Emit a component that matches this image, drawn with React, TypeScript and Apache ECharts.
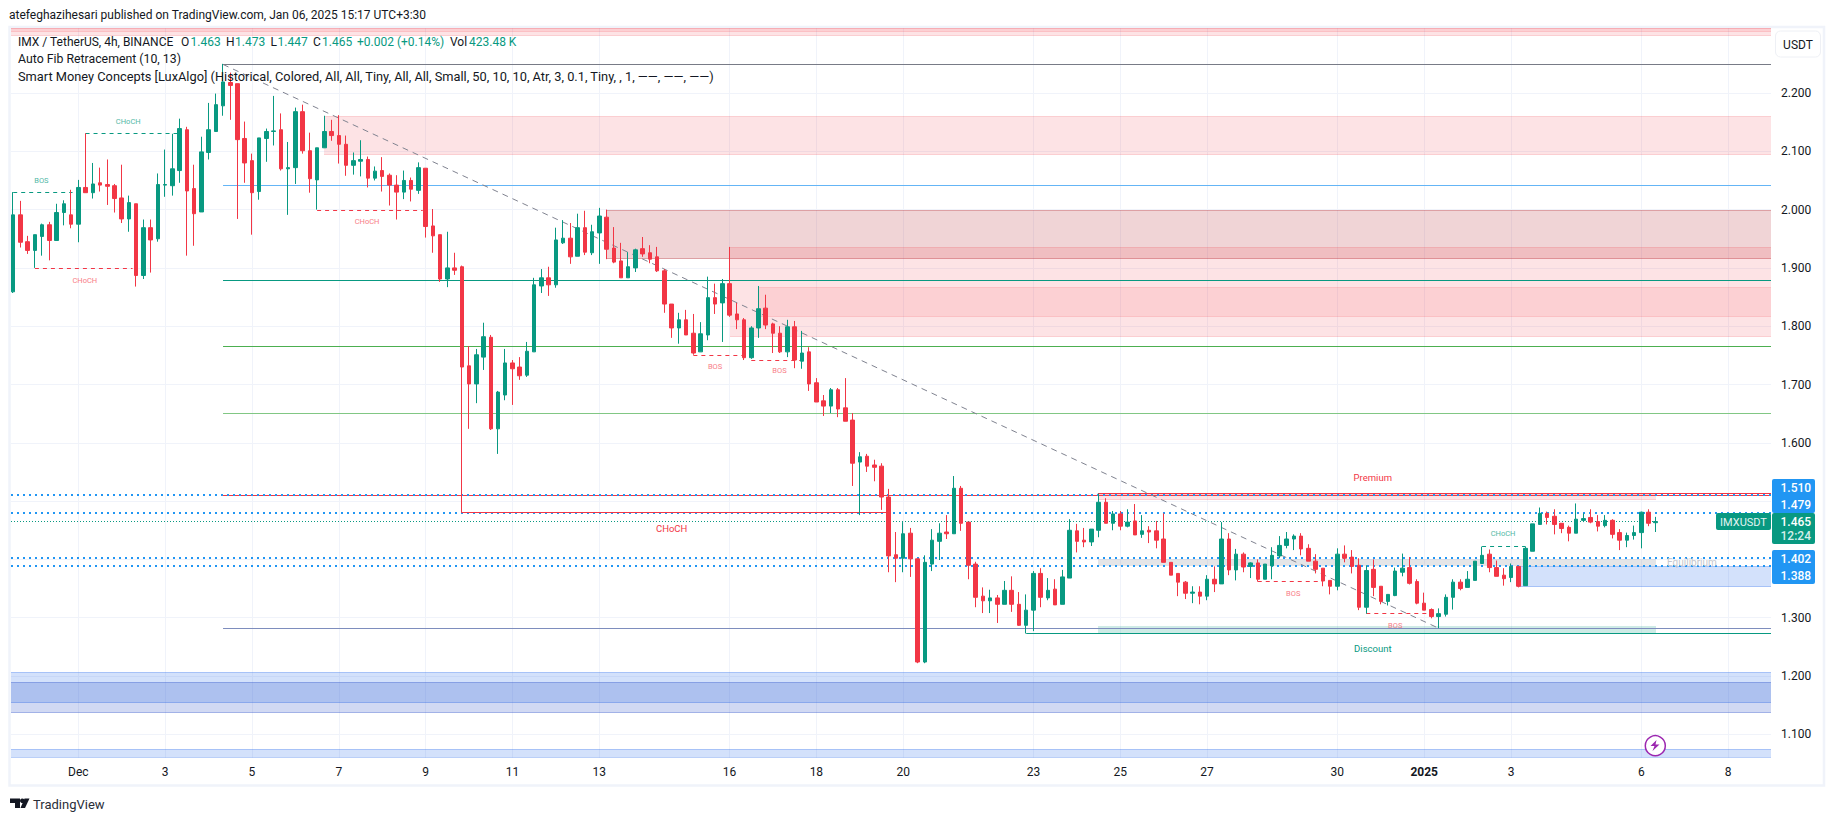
import React, { useEffect, useRef } from "react";
import * as echarts from "echarts";

const opens = [
  1.859,1.991,1.945,1.930,1.954,1.974,1.947,1.995,1.991,1.975,
  2.038,2.029,2.046,2.043,2.041,2.020,1.984,2.010,1.887,1.969,
  1.950,2.042,2.041,2.067,2.137,2.036,1.996,2.098,2.134,2.178,
  2.218,2.216,2.122,2.084,2.031,2.122,2.134,2.137,2.070,2.072,
  2.168,2.101,2.051,2.106,2.134,2.127,2.112,2.076,2.083,2.086,
  2.054,2.067,2.059,2.042,2.030,2.050,2.033,2.071,1.972,1.957,
  1.881,1.900,1.902,1.732,1.701,1.747,1.781,1.624,1.682,1.737,
  1.730,1.716,1.756,1.869,1.883,1.871,1.943,1.951,1.920,1.969,
  1.926,1.960,1.987,1.934,1.912,1.883,1.900,1.933,1.926,1.919,
  1.895,1.838,1.797,1.811,1.788,1.756,1.785,1.849,1.840,1.873,
  1.821,1.811,1.746,1.797,1.831,1.804,1.788,1.756,1.799,1.740,
  1.756,1.703,1.672,1.663,1.691,1.660,1.639,1.567,1.577,1.562,
  1.560,1.507,1.408,1.402,1.445,1.401,1.224,1.392,1.431,1.447,
  1.444,1.522,1.464,1.392,1.337,1.329,1.334,1.323,1.347,1.323,
  1.287,1.313,1.376,1.334,1.349,1.323,1.368,1.449,1.433,1.430,
  1.450,1.498,1.462,1.478,1.457,1.466,1.443,1.450,1.449,1.435,
  1.395,1.376,1.361,1.342,1.344,1.337,1.366,1.358,1.435,1.382,
  1.409,1.388,1.394,1.366,1.389,1.406,1.424,1.435,1.440,1.419,
  1.397,1.385,1.364,1.354,1.409,1.404,1.390,1.318,1.383,1.354,
  1.328,1.338,1.378,1.386,1.362,1.325,1.314,1.302,1.306,1.335,
  1.361,1.352,1.364,1.393,1.409,1.386,1.373,1.369,1.388,1.355,
  1.414,1.460,1.479,1.474,1.462,1.455,1.445,1.467,1.472,1.465,
  1.458,1.467,1.446,1.433,1.441,1.446,1.481,1.463,
];
const closes = [
  1.991,1.944,1.930,1.957,1.974,1.947,1.995,2.010,1.975,2.038,
  2.029,2.044,2.042,2.040,2.019,1.984,2.012,1.887,1.969,1.948,
  2.043,2.043,2.070,2.139,2.032,1.993,2.099,2.137,2.180,2.219,
  2.213,2.120,2.080,2.029,2.123,2.134,2.135,2.070,2.072,2.168,
  2.101,2.053,2.106,2.134,2.127,2.112,2.076,2.084,2.086,2.054,
  2.066,2.057,2.042,2.030,2.050,2.035,2.072,1.971,1.955,1.881,
  1.900,1.896,1.730,1.701,1.751,1.782,1.624,1.687,1.737,1.727,
  1.715,1.757,1.871,1.883,1.871,1.948,1.951,1.919,1.969,1.927,
  1.962,1.989,1.932,1.910,1.883,1.902,1.931,1.924,1.915,1.895,
  1.838,1.797,1.811,1.785,1.754,1.787,1.849,1.838,1.873,1.819,
  1.811,1.746,1.797,1.830,1.802,1.788,1.756,1.799,1.742,1.754,
  1.701,1.670,1.663,1.691,1.658,1.637,1.565,1.576,1.560,1.558,
  1.507,1.406,1.402,1.444,1.401,1.224,1.395,1.433,1.445,1.444,
  1.522,1.462,1.390,1.335,1.329,1.334,1.323,1.347,1.323,1.287,
  1.313,1.376,1.335,1.347,1.322,1.370,1.450,1.431,1.430,1.452,
  1.498,1.462,1.478,1.457,1.464,1.442,1.449,1.447,1.433,1.395,
  1.373,1.361,1.342,1.344,1.337,1.366,1.358,1.435,1.382,1.409,
  1.387,1.394,1.366,1.392,1.407,1.424,1.435,1.440,1.418,1.397,
  1.383,1.363,1.354,1.409,1.402,1.388,1.318,1.381,1.352,1.328,
  1.340,1.380,1.385,1.359,1.325,1.313,1.302,1.307,1.335,1.361,
  1.350,1.366,1.397,1.407,1.386,1.371,1.367,1.388,1.354,1.419,
  1.461,1.479,1.472,1.460,1.453,1.445,1.469,1.470,1.464,1.457,
  1.467,1.443,1.433,1.441,1.446,1.481,1.462,1.465,
];
const lows = [
  1.857,1.935,1.924,1.900,1.921,1.913,1.947,1.973,1.968,1.944,
  2.029,2.019,2.031,2.008,1.995,1.977,1.962,1.868,1.881,1.892,
  1.945,2.022,2.024,2.046,1.921,1.938,1.996,2.086,2.134,2.161,
  2.154,1.984,2.046,1.957,2.017,2.082,2.110,2.067,1.991,2.044,
  2.096,2.029,2.000,2.106,2.118,2.079,2.058,2.060,2.057,2.038,
  2.050,2.031,2.007,1.983,2.018,2.014,2.027,1.952,1.926,1.876,
  1.867,1.888,1.480,1.624,1.668,1.725,1.622,1.581,1.673,1.665,
  1.708,1.713,1.756,1.857,1.852,1.866,1.941,1.907,1.920,1.922,
  1.922,1.907,1.915,1.908,1.883,1.883,1.893,1.919,1.908,1.893,
  1.823,1.780,1.770,1.785,1.751,1.756,1.776,1.821,1.773,1.816,
  1.795,1.742,1.744,1.780,1.795,1.754,1.754,1.747,1.728,1.727,
  1.689,1.670,1.646,1.651,1.644,1.637,1.526,1.476,1.550,1.534,
  1.485,1.378,1.361,1.378,1.370,1.222,1.222,1.380,1.399,1.435,
  1.444,1.449,1.366,1.318,1.308,1.308,1.291,1.323,1.310,1.286,
  1.273,1.277,1.318,1.330,1.322,1.323,1.368,1.412,1.421,1.423,
  1.438,1.462,1.450,1.450,1.455,1.442,1.437,1.428,1.419,1.395,
  1.373,1.337,1.332,1.325,1.323,1.330,1.344,1.358,1.373,1.364,
  1.378,1.368,1.362,1.366,1.366,1.402,1.419,1.416,1.407,1.397,
  1.376,1.354,1.340,1.347,1.395,1.376,1.313,1.307,1.337,1.323,
  1.321,1.337,1.371,1.357,1.323,1.313,1.299,1.282,1.302,1.314,
  1.347,1.352,1.364,1.392,1.378,1.371,1.355,1.361,1.352,1.355,
  1.414,1.460,1.460,1.443,1.445,1.431,1.445,1.464,1.462,1.448,
  1.455,1.436,1.416,1.421,1.434,1.419,1.457,1.447,
];
const highs = [
  2.030,2.015,1.955,1.957,1.976,1.979,2.010,2.016,2.034,2.051,
  2.131,2.080,2.072,2.086,2.044,2.077,2.024,2.010,1.983,1.983,
  2.062,2.103,2.130,2.156,2.142,2.077,2.125,2.183,2.199,2.250,
  2.235,2.216,2.151,2.096,2.123,2.139,2.195,2.165,2.116,2.175,
  2.180,2.132,2.106,2.161,2.154,2.162,2.127,2.098,2.119,2.091,
  2.074,2.090,2.062,2.059,2.067,2.055,2.081,2.071,2.001,1.957,
  1.962,1.926,1.904,1.766,1.761,1.806,1.785,1.689,1.761,1.742,
  1.747,1.773,1.883,1.898,1.902,1.969,1.982,1.977,1.993,1.998,
  1.974,2.003,2.000,1.970,1.943,1.927,1.933,1.953,1.939,1.936,
  1.898,1.838,1.823,1.828,1.821,1.807,1.885,1.873,1.881,1.936,
  1.840,1.814,1.800,1.869,1.854,1.806,1.800,1.811,1.809,1.792,
  1.764,1.711,1.682,1.694,1.694,1.711,1.651,1.584,1.581,1.571,
  1.565,1.521,1.447,1.464,1.454,1.401,1.407,1.452,1.462,1.476,
  1.543,1.526,1.464,1.396,1.352,1.348,1.339,1.363,1.371,1.344,
  1.340,1.380,1.385,1.368,1.366,1.382,1.469,1.461,1.454,1.452,
  1.513,1.505,1.483,1.483,1.486,1.495,1.476,1.457,1.466,1.479,
  1.395,1.376,1.363,1.354,1.354,1.373,1.388,1.464,1.445,1.418,
  1.412,1.395,1.400,1.392,1.421,1.440,1.447,1.443,1.445,1.426,
  1.409,1.385,1.364,1.419,1.424,1.416,1.402,1.390,1.400,1.354,
  1.340,1.386,1.410,1.404,1.366,1.343,1.316,1.316,1.340,1.366,
  1.366,1.380,1.397,1.422,1.417,1.398,1.385,1.393,1.388,1.422,
  1.461,1.489,1.482,1.486,1.462,1.458,1.496,1.479,1.486,1.476,
  1.476,1.469,1.452,1.446,1.458,1.482,1.486,1.473,
];

const dateTickBars = [9, 21, 33, 45, 57, 69, 81, 99, 111, 123, 141, 153, 165, 183, 195, 207, 225, 237];
const dateTickLabels = ["Dec", "3", "5", "7", "9", "11", "13", "16", "18", "20", "23", "25", "27", "30", "2025", "3", "6", "8"];
const priceGridLines = [1.1, 1.2, 1.3, 1.4, 1.5, 1.6, 1.7, 1.8, 1.9, 2.0, 2.1, 2.2];
const priceTickLabels = [1.1, 1.2, 1.3, 1.6, 1.7, 1.8, 1.9, 2.0, 2.1, 2.2];

const X_MIN = -0.304;
const X_MAX = 242.93;
const Y_MIN = 1.0599;
const Y_MAX = 2.3115;

// price zones: first bar, last bar, top, bottom, tint
const zoneStart = [X_MIN, X_MIN, 43, 82, 99, 103, 149.9, 149.9, 149.9, 207.8, X_MIN, X_MIN, X_MIN];
const zoneEnd = [X_MAX, X_MAX, X_MAX, X_MAX, X_MAX, X_MAX, 227.1, 227.1, 227.1, X_MAX, X_MAX, X_MAX, X_MAX];
const zoneTop = [Y_MAX, Y_MAX, 2.16, 1.999, 1.936, 1.868, 1.5127, 1.401, 1.2858, 1.3887, 1.2063, 1.1892, 1.0743];
const zoneBottom = [2.297, 2.305, 2.094, 1.916, 1.781, 1.816, 1.502, 1.389, 1.2732, 1.3532, 1.1532, 1.136, Y_MIN];
const zoneTint = ["red", "red2", "red", "rose", "red", "red2", "red", "grey", "teal", "blue", "blue", "indigo", "blue"];

// horizontal and sloped levels: from bar/price to bar/price, style key
const segX1 = [29, 29, 29, 29, 29, 29, 29, X_MIN, X_MIN, X_MIN, X_MIN, X_MIN, 149.9, 140, 62, 29, 0, 3, 10, 42, 94, 102, 172, 187, 203];
const segP1 = [2.249, 2.0416, 1.879, 1.7655, 1.6506, 1.5096, 1.2818, 1.51, 1.479, 1.403, 1.3885, 1.465, 1.5127, 1.2732, 1.48, 2.249, 2.0295, 1.899, 2.131, 1.9987, 1.75, 1.7415, 1.3622, 1.3074, 1.4224];
const segX2 = [X_MAX, X_MAX, X_MAX, X_MAX, X_MAX, X_MAX, X_MAX, X_MAX, X_MAX, X_MAX, X_MAX, 227, X_MAX, X_MAX, 121, 197, 8.2, 16.5, 22.8, 56.6, 101, 110, 181, 196, 209];
const segP2 = [2.249, 2.0416, 1.879, 1.7655, 1.6506, 1.5096, 1.2818, 1.51, 1.479, 1.403, 1.3885, 1.465, 1.5127, 1.2732, 1.48, 1.282, 2.0295, 1.899, 2.131, 1.9987, 1.75, 1.7415, 1.3622, 1.3074, 1.4224];
const segStyle = ["fibGrey", "fibBlue", "fibTeal", "fibGreen", "fibLight", "fibRed", "fibIndigo", "dots", "dots", "dots", "dots", "last", "high", "low", "choch", "trend", "dashG", "dashR", "dashG", "dashR", "dashR", "dashR", "dashR", "dashR", "dashG"];

// annotation labels
const noteBar = [3.9, 9.9, 15.9, 48.9, 97, 105.9, 176.9, 191, 205.9, 91, 187.9, 187.9, 232];
const notePrice = [2.0505, 1.878, 2.151, 1.98, 1.731, 1.7232, 1.3415, 1.2861, 1.4441, 1.4535, 1.5401, 1.2465, 1.3945];
const noteText = ["BOS", "CHoCH", "CHoCH", "CHoCH", "BOS", "BOS", "BOS", "BOS", "CHoCH", "CHoCH", "Premium", "Discount", "Equilibrium"];
const noteStyle = ["tinyG", "tinyR", "tinyG", "tinyR", "tinyR", "tinyR", "tinyR", "tinyR", "tinyG", "smallR", "smallR", "smallG", "eq"];

const legendPieces = ["IMX / TetherUS, 4h, BINANCE", "O", "1.463", "H", "1.473", "L", "1.447", "C", "1.465", "+0.002 (+0.14%)", "Vol", "423.48 K"];
const legendPieceX = [18, 181, 190.5, 226, 235, 270.5, 277.5, 313, 322, 357, 450, 469];
const legendPieceInk = [0, 0, 1, 0, 1, 0, 1, 0, 1, 1, 0, 1];

const tints: Record<string, [string, string]> = {
  red: ["rgba(242,54,69,0.14)", "rgba(242,54,69,0.12)"],
  red2: ["rgba(242,54,69,0.11)", "rgba(242,54,69,0.1)"],
  rose: ["rgba(178,40,51,0.2)", "rgba(178,40,51,0.3)"],
  grey: ["rgba(120,123,134,0.2)", "rgba(120,123,134,0)"],
  teal: ["rgba(8,153,129,0.2)", "rgba(8,153,129,0)"],
  blue: ["rgba(35,105,235,0.2)", "rgba(35,105,235,0.25)"],
  indigo: ["rgba(25,65,195,0.2)", "rgba(25,65,195,0.25)"],
};
const lineStyles: Record<string, { stroke: string; lineWidth: number; lineDash?: number[] }> = {
  fibGrey: { stroke: "#787b86", lineWidth: 1 },
  fibBlue: { stroke: "#64b5f6", lineWidth: 1 },
  fibTeal: { stroke: "#089981", lineWidth: 1 },
  fibGreen: { stroke: "#4caf50", lineWidth: 1 },
  fibLight: { stroke: "#81c784", lineWidth: 1 },
  fibRed: { stroke: "#f23645", lineWidth: 1 },
  fibIndigo: { stroke: "#7e8dbd", lineWidth: 1 },
  dots: { stroke: "#2196f3", lineWidth: 2, lineDash: [2, 4] },
  last: { stroke: "#089981", lineWidth: 1, lineDash: [1, 2] },
  high: { stroke: "#f23645", lineWidth: 1 },
  low: { stroke: "#089981", lineWidth: 1 },
  choch: { stroke: "#f23645", lineWidth: 1 },
  trend: { stroke: "#808390", lineWidth: 1, lineDash: [6, 5] },
  dashG: { stroke: "#089981", lineWidth: 1, lineDash: [4, 4] },
  dashR: { stroke: "#f23645", lineWidth: 1, lineDash: [4, 4] },
};
const noteStyles: Record<string, { fill: string; fontSize: number }> = {
  tinyG: { fill: "#52b8a6", fontSize: 7.5 },
  tinyR: { fill: "#f87c86", fontSize: 7.5 },
  smallR: { fill: "#f23645", fontSize: 9.5 },
  smallG: { fill: "#089981", fontSize: 9.5 },
  eq: { fill: "#c4c6cc", fontSize: 10 },
};

const FONT = "Roboto, sans-serif";
const INK = "#131722";

function priceTag(y1: number, y2: number, fill: string) {
  return { type: "rect", shape: { x: 1772, y: y1, width: 43, height: y2 - y1, r: 2 }, style: { fill }, z: 50 };
}
function tagText(text: string, y: number, fill = "#ffffff", x = 1780.5) {
  return { type: "text", style: { text, x, y, fill, fontFamily: FONT, fontSize: 12, fontWeight: 500, verticalAlign: "middle" }, z: 51 };
}
function legendText(text: string, y: number, fontSize: number, x = 18, fill = INK) {
  return { type: "text", style: { text, x, y, fill, fontFamily: FONT, fontSize, verticalAlign: "middle" }, z: 60 };
}

export default function App() {
  const ref = useRef<HTMLDivElement>(null);
  useEffect(() => {
    document.body.style.margin = "0";
    const chart = echarts.init(ref.current!, undefined, { renderer: "svg" });
    chart.setOption({
      animation: false,
      backgroundColor: "#ffffff",
      grid: { left: 11, width: 1760, top: 28, height: 729.7 },
      xAxis: {
        type: "value",
        min: X_MIN,
        max: X_MAX,
        axisLine: { show: false },
        axisTick: { show: false, customValues: dateTickBars },
        splitLine: { show: true, lineStyle: { color: "#f0f3fa", width: 1 } },
        axisLabel: {
          customValues: dateTickBars,
          margin: 8,
          color: INK,
          fontFamily: FONT,
          fontSize: 12,
          formatter: (v: number) => {
            const t = dateTickLabels[dateTickBars.indexOf(v)] ?? "";
            return t === "2025" ? "{b|2025}" : t;
          },
          rich: { b: { fontWeight: 700, fontFamily: FONT, fontSize: 12, color: INK } },
        },
      },
      yAxis: {
        type: "value",
        position: "right",
        min: Y_MIN,
        max: Y_MAX,
        axisLine: { show: false },
        axisTick: { show: false, customValues: priceGridLines },
        splitLine: { show: true, lineStyle: { color: "#f0f3fa", width: 1 } },
        axisLabel: {
          customValues: priceTickLabels,
          margin: 10,
          color: INK,
          fontFamily: FONT,
          fontSize: 12,
          formatter: (v: number) => v.toFixed(3),
        },
      },
      series: [
        {
          type: "custom",
          z: 1,
          silent: true,
          clip: true,
          data: zoneStart.map((x, i) => [x, zoneTop[i]]),
          renderItem: (p: any, api: any) => {
            const i = p.dataIndex;
            const a = api.coord([zoneStart[i], zoneTop[i]]);
            const b = api.coord([zoneEnd[i], zoneBottom[i]]);
            const [fill, edge] = tints[zoneTint[i]];
            const x1 = Math.round(a[0]);
            const x2 = Math.round(b[0]);
            const y1 = Math.round(a[1]);
            const y2 = Math.round(b[1]);
            return {
              type: "group",
              children: [
                { type: "rect", shape: { x: x1, y: y1, width: x2 - x1, height: y2 - y1 }, style: { fill } },
                { type: "line", shape: { x1, y1: y1 + 0.5, x2, y2: y1 + 0.5 }, style: { stroke: edge, lineWidth: 1 } },
                { type: "line", shape: { x1, y1: y2 - 0.5, x2, y2: y2 - 0.5 }, style: { stroke: edge, lineWidth: 1 } },
              ],
            };
          },
        },
        {
          type: "custom",
          z: 2,
          silent: true,
          clip: true,
          data: segX1.map((x, i) => [x, segP1[i]]),
          renderItem: (p: any, api: any) => {
            const i = p.dataIndex;
            const a = api.coord([segX1[i], segP1[i]]);
            const b = api.coord([segX2[i], segP2[i]]);
            const st = lineStyles[segStyle[i]];
            const flat = segP1[i] === segP2[i];
            const snap = (v: number) => (flat ? (st.lineWidth === 2 ? Math.round(v) : Math.floor(v) + 0.5) : v);
            return {
              type: "line",
              shape: { x1: a[0], y1: snap(a[1]), x2: b[0], y2: snap(b[1]) },
              style: { stroke: st.stroke, lineWidth: st.lineWidth, lineDash: st.lineDash },
            };
          },
        },
        {
          type: "candlestick",
          z: 3,
          silent: true,
          barWidth: 4,
          encode: { x: 0, y: [1, 2, 3, 4] },
          data: opens.map((o, i) => [i, o, closes[i], lows[i], highs[i]]),
          itemStyle: {
            color: "#089981",
            color0: "#f23645",
            borderColor: "#089981",
            borderColor0: "#f23645",
            borderColorDoji: "#089981",
            borderWidth: 1,
          },
        },
        {
          type: "custom",
          z: 4,
          silent: true,
          data: noteBar.map((x, i) => [x, notePrice[i]]),
          renderItem: (p: any, api: any) => {
            const i = p.dataIndex;
            const c = api.coord([noteBar[i], notePrice[i]]);
            const st = noteStyles[noteStyle[i]];
            return {
              type: "text",
              x: c[0],
              y: c[1],
              style: { text: noteText[i], fill: st.fill, fontSize: st.fontSize, fontFamily: FONT, align: "center", verticalAlign: "middle" },
            };
          },
        },
      ],
      graphic: [
        { type: "rect", shape: { x: 9.5, y: 27, width: 1814.5, height: 758.5 }, style: { fill: "none", stroke: "#f0f3fa", lineWidth: 2.5 }, z: 0 },
        { type: "text", style: { text: "atefeghazihesari published on TradingView.com, Jan 06, 2025 15:17 UTC+3:30", x: 9, y: 15, fill: INK, fontFamily: FONT, fontSize: 12, verticalAlign: "middle" }, z: 60 },
        ...legendPieces.map((t, i) => legendText(t, 42, 12, legendPieceX[i], legendPieceInk[i] ? "#089981" : INK)),
        legendText("Auto Fib Retracement (10, 13)", 59, 12.3),
        legendText("Smart Money Concepts [LuxAlgo] (Historical, Colored, All, All, Tiny, All, All, Small, 50, 10, 10, Atr, 3, 0.1, Tiny, , 1, ——, ——, ——)", 76, 12.8),
        { type: "rect", shape: { x: 1775.5, y: 31, width: 45, height: 26, r: 5 }, style: { fill: "#ffffff", stroke: "#eef0f5", lineWidth: 1 }, z: 50 },
        { type: "text", style: { text: "USDT", x: 1798, y: 44.5, fill: INK, fontFamily: FONT, fontSize: 12, align: "center", verticalAlign: "middle" }, z: 51 },
        priceTag(479, 513, "#2196f3"),
        tagText("1.510", 488),
        tagText("1.479", 505),
        priceTag(513, 544, "#089981"),
        tagText("1.465", 522),
        tagText("12:24", 536, "#d5efea"),
        { type: "rect", shape: { x: 1716, y: 513, width: 55, height: 17, r: 2 }, style: { fill: "#089981" }, z: 50 },
        { type: "text", style: { text: "IMXUSDT", x: 1743.5, y: 522, fill: "#e3f4f1", fontFamily: FONT, fontSize: 11, align: "center", verticalAlign: "middle" }, z: 51 },
        priceTag(550, 584, "#2196f3"),
        tagText("1.402", 559),
        tagText("1.388", 576),
        { type: "circle", shape: { cx: 1655.3, cy: 745.7, r: 10 }, style: { fill: "#ffffff", stroke: "#9c27b0", lineWidth: 1.5 }, z: 55 },
        { type: "polygon", shape: { points: [[1656.5, 740], [1650.5, 746], [1654.5, 746], [1652.5, 751], [1659.5, 744.5], [1655.5, 744.5]] }, style: { fill: "#9c27b0" }, z: 56 },
        { type: "polygon", shape: { points: [[10, 798.5], [20, 798.5], [20, 808], [15, 808], [15, 803], [10, 803]] }, style: { fill: INK }, z: 60 },
        { type: "circle", shape: { cx: 22.3, cy: 800.8, r: 2.3 }, style: { fill: INK }, z: 60 },
        { type: "polygon", shape: { points: [[24.5, 798.5], [29.5, 798.5], [25, 808], [20.5, 808]] }, style: { fill: INK }, z: 60 },
        { type: "text", style: { text: "TradingView", x: 33, y: 804, fill: "#2a2e39", fontFamily: FONT, fontSize: 13, verticalAlign: "middle" }, z: 60 },
      ],
    });
    return () => chart.dispose();
  }, []);
  return <div ref={ref} style={{ width: 1835, height: 821 }} />;
}
